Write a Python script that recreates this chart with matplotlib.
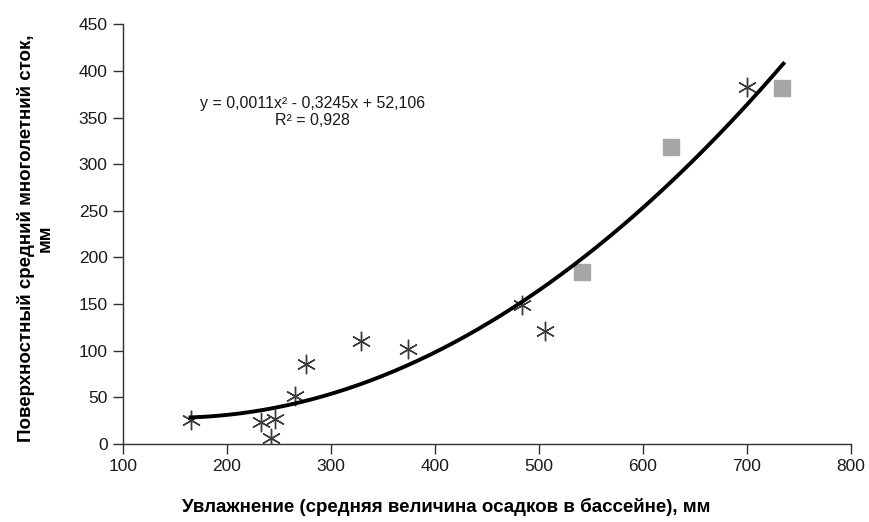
import matplotlib
matplotlib.use("Agg")
import matplotlib.pyplot as plt
import numpy as np

plt.rcParams['font.family'] = ['Liberation Sans', 'DejaVu Sans']

# точки (звёздочки)
x_star = [165, 233, 246, 242, 265, 276, 329, 374, 484, 506, 700]
y_star = [26, 24, 27, 6, 52, 86, 110, 102, 149, 121, 383]
# точки (квадраты)
x_sq = [541, 627, 734]
y_sq = [184, 318, 382]
# коэффициенты линии тренда
coef = [0.0011, -0.3245, 52.106]
xt_min, xt_max = 165, 735

fig = plt.figure(figsize=(8.69, 5.22), dpi=100)
ax = fig.add_axes([0.1415, 0.1494, 0.9793 - 0.1415, 0.9534 - 0.1494])

xt = np.linspace(xt_min, xt_max, 300)
ax.plot(xt, np.polyval(coef, xt), color='black', lw=2.8, zorder=3)
ax.plot(x_star, y_star, ls='none', marker=(6, 2, 0), ms=14, mew=1.0,
        color='#3a3a3a', zorder=2)
ax.plot(x_sq, y_sq, ls='none', marker='s', ms=12, color='#a6a6a6',
        mec='#a6a6a6', zorder=2)

ax.set_xlim(100, 800)
ax.set_ylim(0, 450)
ax.set_xticks(range(100, 801, 100))
ax.set_yticks(range(0, 451, 50))
for s in ['top', 'right']:
    ax.spines[s].set_visible(False)
for s in ['left', 'bottom']:
    ax.spines[s].set_color('#303030')
    ax.spines[s].set_linewidth(1.0)
ax.tick_params(direction='out', length=7, width=1.0, color='#303030',
               labelsize=12.5, labelcolor='#1a1a1a', pad=4)

ax.text(282, 356, "y = 0,0011x² - 0,3245x + 52,106\nR² = 0,928",
        ha='center', va='center', fontsize=11.5, color='#1a1a1a',
        linespacing=1.15)

ax.set_xlabel("Увлажнение (средняя величина осадков в бассейне), мм",
              fontsize=13.5, fontweight='bold')
ax.xaxis.set_label_coords(0.444, -0.128)
ax.set_ylabel("Поверхностный средний многолетний сток,\nмм",
              fontsize=13.5, fontweight='bold', linespacing=1.15)
ax.yaxis.set_label_coords(-0.095, 0.49)

fig.savefig("out.png", dpi=100)
